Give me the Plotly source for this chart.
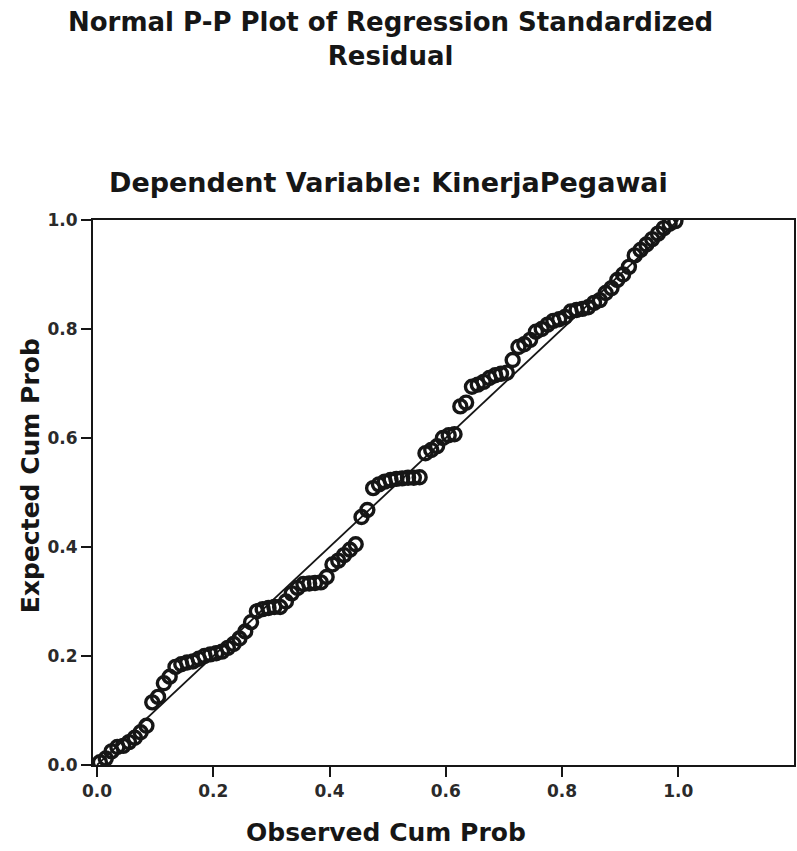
import plotly.graph_objects as go

# Observed cumulative probability (x) and expected cumulative probability (y)
observed = [0.005, 0.015, 0.025, 0.035, 0.045, 0.055, 0.065, 0.075, 0.085, 0.095,
            0.105, 0.115, 0.125, 0.135, 0.145, 0.155, 0.165, 0.175, 0.185, 0.195,
            0.205, 0.215, 0.225, 0.235, 0.245, 0.255, 0.265, 0.275, 0.285, 0.295,
            0.305, 0.315, 0.325, 0.335, 0.345, 0.355, 0.365, 0.375, 0.385, 0.395,
            0.405, 0.415, 0.425, 0.435, 0.445, 0.455, 0.465, 0.475, 0.485, 0.495,
            0.505, 0.515, 0.525, 0.535, 0.545, 0.555, 0.565, 0.575, 0.585, 0.595,
            0.605, 0.615, 0.625, 0.635, 0.645, 0.655, 0.665, 0.675, 0.685, 0.695,
            0.705, 0.715, 0.725, 0.735, 0.745, 0.755, 0.765, 0.775, 0.785, 0.795,
            0.805, 0.815, 0.825, 0.835, 0.845, 0.855, 0.865, 0.875, 0.885, 0.895,
            0.905, 0.915, 0.925, 0.935, 0.945, 0.955, 0.965, 0.975, 0.985, 0.995]
expected = [0.005, 0.012, 0.025, 0.033, 0.035, 0.042, 0.050, 0.060, 0.072, 0.115,
            0.125, 0.150, 0.162, 0.180, 0.185, 0.188, 0.190, 0.195, 0.200, 0.203,
            0.205, 0.208, 0.215, 0.222, 0.232, 0.245, 0.262, 0.282, 0.286, 0.288,
            0.290, 0.290, 0.300, 0.315, 0.325, 0.332, 0.333, 0.334, 0.335, 0.345,
            0.368, 0.375, 0.385, 0.395, 0.405, 0.455, 0.468, 0.508, 0.515, 0.520,
            0.523, 0.525, 0.526, 0.527, 0.527, 0.528, 0.572, 0.578, 0.585, 0.600,
            0.605, 0.607, 0.658, 0.665, 0.694, 0.698, 0.703, 0.710, 0.715, 0.718,
            0.720, 0.743, 0.767, 0.772, 0.780, 0.795, 0.800, 0.808, 0.815, 0.818,
            0.822, 0.832, 0.835, 0.837, 0.840, 0.848, 0.853, 0.866, 0.875, 0.890,
            0.900, 0.914, 0.935, 0.945, 0.955, 0.965, 0.975, 0.985, 0.993, 0.998]

ref_x = [0.0, 1.0]
ref_y = [0.0, 1.0]

tick_vals = [0.0, 0.2, 0.4, 0.6, 0.8, 1.0]
tick_text = ["0.0", "0.2", "0.4", "0.6", "0.8", "1.0"]

title_lines = ["Normal P-P Plot of Regression Standardized", "Residual"]
subtitle = "Dependent Variable: KinerjaPegawai"
x_title = "Observed Cum Prob"
y_title = "Expected Cum Prob"

INK = "#161616"
FONT = "DejaVu Sans, Liberation Sans, Arial, sans-serif"

fig = go.Figure()
fig.add_trace(go.Scatter(x=ref_x, y=ref_y, mode="lines",
                         line=dict(color=INK, width=1.8), hoverinfo="skip",
                         showlegend=False))
fig.add_trace(go.Scatter(x=observed, y=expected, mode="markers",
                         marker=dict(symbol="circle-open", size=13,
                                     color=INK, line=dict(color=INK, width=3.4)),
                         showlegend=False))

W, H = 797, 851
L, R, T, B = 93, 1, 220, 86

fig.update_layout(
    width=W, height=H,
    margin=dict(l=L, r=R, t=T, b=B, pad=0),
    paper_bgcolor="white", plot_bgcolor="white",
    font=dict(family=FONT, color=INK),
    showlegend=False,
)

def px_to_paper_y(py):
    return (H - B - py) / (H - T - B)

def px_to_paper_x(px):
    return (px - L) / (W - L - R)

annos = [
    ("<br>".join("<b>%s</b>" % s for s in title_lines), 391, 39, 26),
    ("<b>%s</b>" % subtitle, 389, 182, 27),
    ("<b>%s</b>" % x_title, 387, 832, 25),
]
for text, px, py, size in annos:
    fig.add_annotation(text=text, xref="paper", yref="paper",
                       x=px_to_paper_x(px), y=px_to_paper_y(py),
                       xanchor="center", yanchor="middle", showarrow=False,
                       font=dict(size=size, family=FONT, color=INK))
fig.add_annotation(text="<b>%s</b>" % y_title, xref="paper", yref="paper",
                   x=px_to_paper_x(30), y=px_to_paper_y(476), textangle=-90,
                   xanchor="center", yanchor="middle", showarrow=False,
                   font=dict(size=25, family=FONT, color=INK))

axis_common = dict(showgrid=False, zeroline=False, showline=True, linecolor=INK,
                   linewidth=2, mirror=True, ticks="outside", ticklen=10,
                   tickwidth=2, tickcolor=INK, tickvals=tick_vals, ticktext=tick_text,
                   tickfont=dict(size=17, family=FONT, color="#2a2a2a", weight="bold"))
fig.update_xaxes(range=[-0.0069, 1.199], **axis_common)
fig.update_yaxes(range=[0.0, 1.0], **axis_common)

fig.write_html("out.html")
